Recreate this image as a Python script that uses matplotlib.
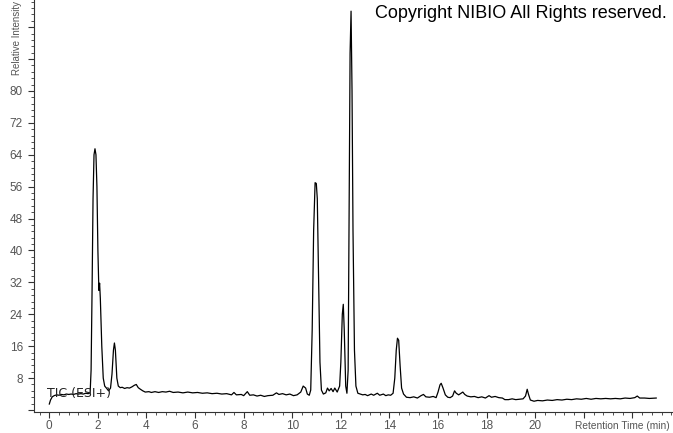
"""TIC (ESI+) chromatogram, redrawn from a screenshot."""
import matplotlib
matplotlib.use('Agg')
import matplotlib.pyplot as plt
from matplotlib.ticker import MultipleLocator, FuncFormatter

#----------------------------------------
# Data (retention time in min, relative intensity).
retention_time = [
    0.00, 0.05, 0.12, 0.20, 0.30, 0.40, 0.50, 0.60, 0.70, 0.80, 0.90, 1.00,
    1.10, 1.20, 1.30, 1.40, 1.50, 1.60, 1.68, 1.72, 1.76, 1.80, 1.84, 1.88,
    1.92, 1.96, 2.00, 2.04, 2.07, 2.10, 2.16, 2.22, 2.28, 2.35, 2.44, 2.52,
    2.58, 2.64, 2.68, 2.72, 2.78, 2.84, 2.92, 3.00, 3.10, 3.20, 3.30, 3.40,
    3.50, 3.58, 3.66, 3.75, 3.85, 3.95, 4.10, 4.20, 4.35, 4.50, 4.65, 4.80,
    4.95, 5.10, 5.30, 5.50, 5.70, 5.90, 6.10, 6.30, 6.50, 6.70, 6.90, 7.10,
    7.30, 7.50, 7.60, 7.70, 7.90, 8.00, 8.15, 8.25, 8.40, 8.55, 8.70, 8.85,
    9.00, 9.20, 9.35, 9.45, 9.60, 9.75, 9.90, 10.05, 10.20, 10.35, 10.45,
    10.55, 10.62, 10.70, 10.76, 10.82, 10.88, 10.94, 10.99, 11.03, 11.08,
    11.14, 11.20, 11.28, 11.38, 11.45, 11.52, 11.60, 11.68, 11.75, 11.85,
    11.95, 12.00, 12.06, 12.10, 12.14, 12.20, 12.25, 12.30, 12.34, 12.38,
    12.42, 12.46, 12.50, 12.56, 12.62, 12.70, 12.80, 12.90, 13.00, 13.10,
    13.25, 13.35, 13.50, 13.60, 13.75, 13.85, 13.95, 14.05, 14.15, 14.22,
    14.28, 14.33, 14.38, 14.44, 14.50, 14.58, 14.70, 14.85, 15.00, 15.15,
    15.30, 15.40, 15.50, 15.65, 15.80, 15.92, 16.00, 16.08, 16.13, 16.20,
    16.30, 16.40, 16.50, 16.60, 16.68, 16.75, 16.85, 16.95, 17.02, 17.10,
    17.20, 17.35, 17.50, 17.65, 17.80, 17.95, 18.10, 18.20, 18.35, 18.50,
    18.65, 18.75, 18.90, 19.05, 19.20, 19.35, 19.50, 19.60, 19.67, 19.72,
    19.80, 19.95, 20.10, 20.30, 20.50, 20.70, 20.90, 21.10, 21.30, 21.50,
    21.70, 21.90, 22.10, 22.30, 22.50, 22.70, 22.90, 23.10, 23.30, 23.50,
    23.70, 23.90, 24.10, 24.20, 24.30, 24.50, 24.70, 24.98]
intensity = [
    1.5, 2.5, 3.3, 3.6, 3.8, 3.7, 3.9, 3.8, 4.0, 3.9, 4.0, 3.9,
    4.1, 4.0, 4.1, 4.0, 4.2, 4.1, 4.3, 10.0, 30.0, 53.0, 64.0, 65.5,
    64.0, 56.0, 40.0, 30.0, 31.8, 28.0, 16.0, 8.0, 6.0, 5.5, 4.8, 5.5,
    9.0, 15.0, 16.8, 15.0, 8.0, 6.0, 5.6, 5.7, 5.4, 5.6, 5.5, 5.8,
    6.2, 6.4, 5.6, 5.2, 4.8, 4.5, 4.6, 4.4, 4.6, 4.4, 4.6, 4.5,
    4.7, 4.4, 4.5, 4.3, 4.5, 4.3, 4.4, 4.2, 4.3, 4.1, 4.2, 4.0,
    4.1, 3.8, 4.4, 3.8, 3.9, 3.6, 4.6, 3.7, 3.8, 3.5, 3.7, 3.4,
    3.6, 3.7, 4.3, 3.9, 4.1, 3.8, 4.0, 3.6, 3.8, 4.5, 6.0,
    5.5, 4.0, 3.7, 5.0, 20.0, 45.0, 57.0, 56.8, 53.0, 35.0,
    12.0, 5.0, 4.0, 4.3, 5.5, 4.8, 5.4, 4.6, 5.5, 4.5,
    6.0, 12.0, 24.0, 26.5, 20.0, 6.0, 4.2, 10.0, 50.0, 89.5,
    100.0, 80.0, 45.0, 15.0, 6.0, 4.2, 4.0, 3.8, 3.9, 3.6,
    4.0, 3.7, 4.2, 3.7, 4.0, 3.6, 3.8, 3.7, 4.2, 8.0,
    15.0, 18.0, 17.5, 11.0, 5.5, 4.0, 3.2, 3.1, 3.3, 3.0,
    3.6, 3.9, 3.3, 3.2, 3.4, 3.1, 4.5, 6.3, 6.7, 5.6,
    3.8, 3.2, 3.1, 3.5, 4.8, 4.2, 3.8, 4.2, 4.5, 3.9,
    3.5, 3.3, 3.4, 3.1, 3.3, 3.0, 3.6, 3.2, 3.4, 3.1,
    3.0, 2.6, 2.6, 2.8, 2.6, 2.7, 2.8, 3.5, 5.2, 4.0,
    2.5, 2.2, 2.4, 2.3, 2.5, 2.4, 2.6, 2.5, 2.7, 2.6,
    2.8, 2.7, 2.9, 2.7, 2.9, 2.8, 2.9, 2.8, 2.9, 2.8,
    3.0, 2.9, 3.1, 3.5, 3.0, 3.0, 2.9, 3.0]

x_tick_labels = ['0', '2', '4', '6', '8', '10', '12', '14', '16', '18', '20']
y_tick_labels = ['8', '16', '24', '32', '40', '48', '56', '64', '72', '80']

#----------------------------------------
# Figure
plt.rcParams['font.family'] = ['Liberation Sans', 'DejaVu Sans']
tick_grey = '#555555'

fig = plt.figure(figsize=(6.73, 4.33), dpi=100)
ax = fig.add_axes([34 / 673, 21 / 433, 638 / 673, 412 / 433])

ax.plot(retention_time, intensity, color='black', lw=0.9)

ax.set_xlim(-0.63, 25.63)
ax.set_ylim(-0.5, 102.8)

# Only left and bottom axis lines, like the instrument software.
for side in ('top', 'right'):
  ax.spines[side].set_visible(False)
for side in ('left', 'bottom'):
  ax.spines[side].set_color('#333333')
  ax.spines[side].set_linewidth(0.8)

ax.xaxis.set_major_locator(MultipleLocator(2))
ax.xaxis.set_minor_locator(MultipleLocator(0.4))
ax.yaxis.set_major_locator(MultipleLocator(8))
ax.yaxis.set_minor_locator(MultipleLocator(1.6))


def x_label(value, pos):
  key = '%g' % value
  return key if key in x_tick_labels else ''


def y_label(value, pos):
  key = '%g' % value
  return key if key in y_tick_labels else ''


ax.xaxis.set_major_formatter(FuncFormatter(x_label))
ax.yaxis.set_major_formatter(FuncFormatter(y_label))
ax.tick_params(which='major', length=4, width=0.8, color='#333333',
               labelsize=8.5, labelcolor=tick_grey)
ax.tick_params(axis='x', which='major', pad=1.5)
ax.tick_params(axis='y', which='major', pad=4)
ax.tick_params(which='minor', length=2, width=0.6, color='#333333')

# Texts.
fig.text(670 / 673, 1 - 426 / 433, 'Retention Time (min)', fontsize=7.3,
         color=tick_grey, ha='right', va='center')
fig.text(17 / 673, 1 - 1 / 433, 'Relative Intensity', fontsize=7.0,
         color=tick_grey, rotation=90, ha='center', va='top')
fig.text(667 / 673, 1 - 14 / 433, 'Copyright NIBIO All Rights reserved.',
         fontsize=13, color='black', ha='right', va='center')
ax.text(-0.1, 4.2, 'TIC (ESI+)', fontsize=9.0, color='#222222',
        family=['DejaVu Sans'], ha='left', va='center')

fig.savefig('out.png', dpi=100)
